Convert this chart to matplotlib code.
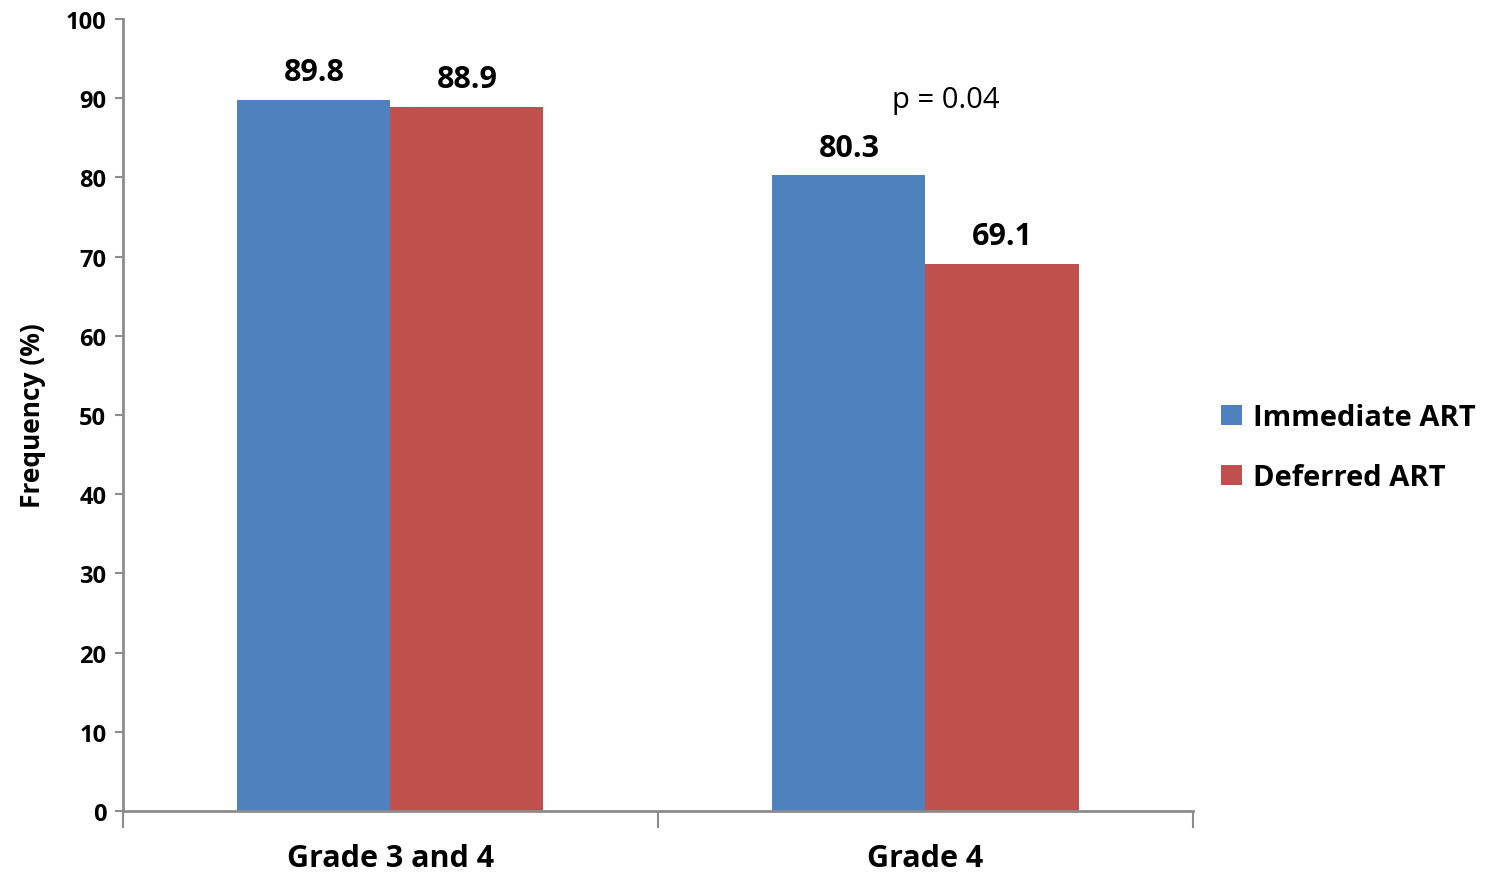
import matplotlib
matplotlib.use("Agg")
import matplotlib.pyplot as plt
import numpy as np

categories = ["Grade 3 and 4", "Grade 4"]
immediate = [89.8, 80.3]
deferred = [88.9, 69.1]
series_names = ["Immediate ART", "Deferred ART"]
y_ticks = [0, 10, 20, 30, 40, 50, 60, 70, 80, 90, 100]

plt.rcParams["font.family"] = ["Open Sans", "DejaVu Sans"]

fig = plt.figure(figsize=(14.92, 8.78), dpi=100)
ax = fig.add_axes([0.0824, 0.0752, 0.7172, 0.902])

x = np.arange(len(categories))
w = 0.286
blue = "#4F81BD"
red = "#C0504D"
b1 = ax.bar(x - w / 2, immediate, w, color=blue, label=series_names[0])
b2 = ax.bar(x + w / 2, deferred, w, color=red, label=series_names[1])

for bars, vals in ((b1, immediate), (b2, deferred)):
    for bar, v in zip(bars, vals):
        ax.annotate(f"{v:.1f}", (bar.get_x() + bar.get_width() / 2, v),
                    xytext=(0, 9), textcoords="offset points",
                    ha="center", va="bottom", fontsize=22, fontweight="bold")

ax.text(1.038, 89.8, "p = 0.04", ha="center", va="center", fontsize=21)

ax.set_xlim(-0.5, 1.5)
ax.set_ylim(0, 100)
ax.set_yticks(y_ticks)
ax.tick_params(axis="y", labelsize=17, length=6, width=1.5, color="#8c8c8c", pad=6)
for lab in ax.get_yticklabels():
    lab.set_fontweight("bold")

ax.set_xticks([-0.5, 0.5, 1.5])
ax.set_xticklabels([])
ax.tick_params(axis="x", which="major", length=12, width=1.5, color="#8c8c8c")
ax.set_xticks(x, minor=True)
ax.set_xticklabels(categories, minor=True, fontsize=22, fontweight="bold")
ax.tick_params(axis="x", which="minor", length=0, pad=23)

for s in ("top", "right"):
    ax.spines[s].set_visible(False)
for s in ("left", "bottom"):
    ax.spines[s].set_color("#8c8c8c")
    ax.spines[s].set_linewidth(2)

ax.set_ylabel("Frequency (%)", fontsize=19, fontweight="bold", labelpad=14)

fig.legend(handles=[b1, b2], loc="center left", bbox_to_anchor=(0.801, 0.489),
           frameon=False, handlelength=0.7, handleheight=0.7,
           handletextpad=0.4, labelspacing=1.05,
           prop={"size": 21, "weight": "bold"})

fig.savefig("out.png", dpi=100)
